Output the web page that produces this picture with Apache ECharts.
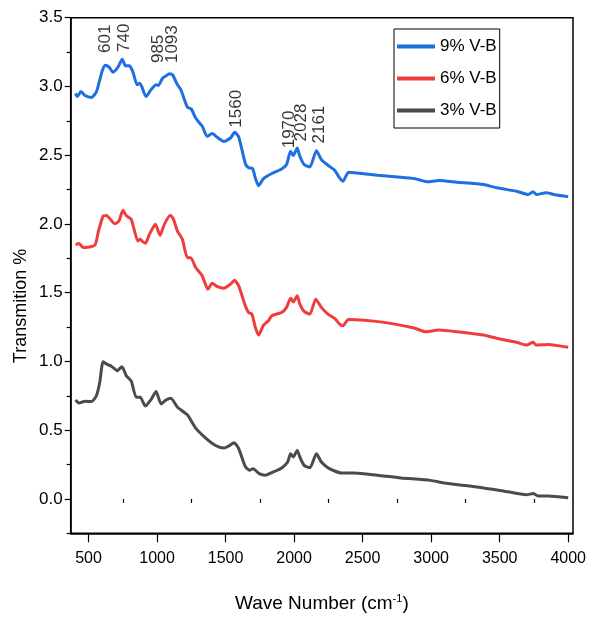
<!DOCTYPE html>
<html>
<head>
<meta charset="utf-8">
<script src="https://cdn.jsdelivr.net/npm/echarts@6/dist/echarts.min.js"></script>
<style>
  html, body { margin: 0; padding: 0; background: #fff; }
  #chart { width: 589px; height: 619px; }
</style>
</head>
<body>
<div id="chart"></div>
<script>
// FTIR transmission spectra, [wavenumber (cm-1), transmission] pairs
const vb9 = [
  [405, 2.95], [418, 2.927], [445, 2.963], [474, 2.934], [522, 2.92], [558, 2.963],
  [580, 3.04], [602, 3.12], [623, 3.155], [650, 3.14], [678, 3.104], [715, 3.14],
  [746, 3.198], [770, 3.15], [799, 3.15], [823, 3.108], [855, 3.012], [872, 3.024],
  [888, 3.0], [920, 2.927], [956, 2.976], [993, 3.012], [1009, 3.007], [1040, 3.06],
  [1070, 3.08], [1089, 3.092], [1113, 3.085], [1149, 3.012], [1174, 2.976], [1221, 2.85],
  [1250, 2.836], [1282, 2.77], [1330, 2.71], [1366, 2.637], [1402, 2.657], [1439, 2.63],
  [1487, 2.60], [1536, 2.625], [1567, 2.666], [1596, 2.633], [1644, 2.44], [1668, 2.408],
  [1697, 2.403], [1717, 2.335], [1741, 2.278], [1777, 2.33], [1837, 2.367], [1909, 2.40],
  [1945, 2.432], [1974, 2.528], [1994, 2.497], [2023, 2.553], [2042, 2.492], [2073, 2.432],
  [2115, 2.415], [2163, 2.533], [2199, 2.468], [2247, 2.427], [2296, 2.39], [2332, 2.335],
  [2356, 2.31], [2397, 2.376], [2441, 2.372], [2609, 2.354], [2778, 2.34], [2875, 2.33],
  [2923, 2.318], [2971, 2.306], [3056, 2.316], [3189, 2.304], [3382, 2.287], [3478, 2.263],
  [3623, 2.238], [3708, 2.214], [3744, 2.234], [3768, 2.214], [3840, 2.227], [3913, 2.21],
  [4000, 2.198]
];
const vb6 = [
  [405, 1.85], [432, 1.857], [461, 1.828], [546, 1.845], [570, 1.937], [606, 2.057],
  [631, 2.062], [691, 2.002], [722, 2.021], [751, 2.10], [775, 2.062], [812, 2.033],
  [860, 1.876], [877, 1.888], [896, 1.871], [915, 1.859], [944, 1.924], [988, 1.997],
  [1022, 1.917], [1053, 1.997], [1096, 2.064], [1118, 2.038], [1149, 1.948], [1185, 1.888],
  [1221, 1.755], [1246, 1.755], [1282, 1.683], [1330, 1.622], [1371, 1.525], [1402, 1.569],
  [1439, 1.545], [1487, 1.533], [1536, 1.562], [1565, 1.591], [1596, 1.549], [1644, 1.404],
  [1668, 1.356], [1692, 1.344], [1717, 1.248], [1741, 1.192], [1777, 1.264], [1813, 1.296],
  [1837, 1.332], [1909, 1.356], [1945, 1.393], [1974, 1.46], [1994, 1.433], [2023, 1.477],
  [2042, 1.417], [2073, 1.364], [2115, 1.344], [2158, 1.453], [2199, 1.393], [2247, 1.344],
  [2296, 1.313], [2332, 1.272], [2356, 1.259], [2397, 1.305], [2658, 1.284], [2875, 1.243],
  [2959, 1.216], [3056, 1.228], [3189, 1.216], [3382, 1.192], [3478, 1.168], [3623, 1.139],
  [3696, 1.119], [3744, 1.139], [3768, 1.119], [3853, 1.124], [4000, 1.103]
];
const vb3 = [
  [405, 0.72], [432, 0.697], [474, 0.711], [522, 0.708], [558, 0.752], [582, 0.849],
  [606, 0.998], [631, 0.981], [667, 0.965], [710, 0.933], [744, 0.962], [775, 0.897],
  [812, 0.856], [848, 0.74], [877, 0.74], [915, 0.675], [956, 0.723], [993, 0.781],
  [1029, 0.691], [1065, 0.72], [1101, 0.733], [1149, 0.667], [1221, 0.612], [1282, 0.515],
  [1355, 0.443], [1427, 0.389], [1487, 0.37], [1523, 0.385], [1562, 0.409], [1596, 0.365],
  [1644, 0.236], [1675, 0.208], [1700, 0.22], [1745, 0.184], [1789, 0.172], [1837, 0.191],
  [1909, 0.225], [1953, 0.269], [1974, 0.329], [1994, 0.305], [2023, 0.353], [2042, 0.305],
  [2073, 0.244], [2115, 0.227], [2163, 0.329], [2199, 0.269], [2247, 0.227], [2296, 0.203],
  [2344, 0.189], [2441, 0.189], [2609, 0.172], [2778, 0.153], [2995, 0.135], [3092, 0.116],
  [3333, 0.087], [3527, 0.058], [3696, 0.031], [3744, 0.039], [3780, 0.022], [3853, 0.022],
  [4000, 0.008]
];

// Band assignments marked above the 9% V-B spectrum
const peakWaves = [601, 740, 985, 1093, 1560, 1970, 2028, 2161];
const peakLabelY = [3.244, 3.251, 3.17, 3.17, 2.70, 2.55, 2.60, 2.585];

const seriesNames = ['9% V-B', '6% V-B', '3% V-B'];
const seriesColors = ['#1f6fe0', '#ef3d3d', '#4b4b4b'];

const xMajor = [500, 1000, 1500, 2000, 2500, 3000, 3500, 4000];
const xMinor = [750, 1250, 1750, 2250, 2750, 3250, 3750];
const yMajor = [0, 0.5, 1.0, 1.5, 2.0, 2.5, 3.0, 3.5];
const yMinor = [-0.25, 0.25, 0.75, 1.25, 1.75, 2.25, 2.75, 3.25];

const font = "'Liberation Sans', Arial, Helvetica, sans-serif";

const chart = echarts.init(document.getElementById('chart'), null, { renderer: 'canvas' });

const xRange = { min: 370, max: 4035 };
const yRange = { min: -0.25, max: 3.5 };

// rotated labels sit slightly left of their anchor; nudge them back (local y = screen x)
const peakData = peakWaves.map((w, i) => ({
  value: [w, peakLabelY[i]],
  name: String(w),
  label: { offset: [0, w === 1970 ? -1 : 3] }
}));

chart.setOption({
  animation: false,
  backgroundColor: '#fff',
  grid: {
    left: 70.7, right: 12.7, top: 17.7, bottom: 85.7,
    show: true, borderColor: '#000', borderWidth: 1.5, backgroundColor: 'transparent'
  },
  legend: {
    orient: 'vertical',
    left: 394, top: 29,
    padding: [9, 3, 9, 3],
    itemGap: 15,
    itemWidth: 38, itemHeight: 4,
    icon: 'rect',
    borderColor: '#000', borderWidth: 1,
    backgroundColor: '#fff',
    textStyle: { fontFamily: font, fontSize: 17, color: '#000' },
    data: seriesNames
  },
  xAxis: [
    {
      type: 'value', ...xRange,
      name: 'Wave Number (cm{sup|-1})',
      nameLocation: 'middle', nameGap: 60,
      nameTextStyle: {
        fontFamily: font, fontSize: 19, color: '#000',
        rich: { sup: { fontFamily: font, fontSize: 11, color: '#000', verticalAlign: 'top', padding: [0, 0, 9, 0] } }
      },
      axisLine: { show: true, onZero: false, lineStyle: { color: '#000', width: 1.5 } },
      axisTick: { show: true, customValues: xMajor, length: 9, lineStyle: { color: '#000', width: 1.2 } },
      axisLabel: {
        customValues: xMajor, margin: 17, fontFamily: font, fontSize: 16, color: '#000',
        formatter: v => String(v)
      },
      splitLine: { show: false }
    },
    {
      type: 'value', ...xRange, position: 'bottom',
      axisLine: { show: false },
      axisTick: { show: true, customValues: xMinor, length: 4, lineStyle: { color: '#000', width: 1.2 } },
      axisLabel: { show: false },
      splitLine: { show: false }
    }
  ],
  yAxis: [
    {
      type: 'value', ...yRange,
      axisLine: { show: true, onZero: false, lineStyle: { color: '#000', width: 1.5 } },
      axisTick: { show: true, customValues: yMajor, length: 6, lineStyle: { color: '#000', width: 1.2 } },
      axisLabel: {
        customValues: yMajor, margin: 8, fontFamily: font, fontSize: 17, color: '#000',
        formatter: v => v.toFixed(1)
      },
      splitLine: { show: false }
    },
    {
      type: 'value', ...yRange, position: 'left',
      axisLine: { show: false },
      axisTick: { show: true, customValues: yMinor, length: 4, lineStyle: { color: '#000', width: 1.2 } },
      axisLabel: { show: false },
      splitLine: { show: false }
    }
  ],
  graphic: [
    {
      type: 'text',
      x: 21, y: 306,
      rotation: Math.PI / 2,
      style: {
        text: 'Transmition %',
        fontFamily: font, fontSize: 18, fill: '#000',
        align: 'center', verticalAlign: 'middle'
      }
    }
  ],
  series: [
    ...[vb9, vb6, vb3].map((d, i) => ({
      name: seriesNames[i],
      type: 'line',
      data: d,
      showSymbol: false,
      symbol: 'none',
      smooth: 0.2,
      color: seriesColors[i],
      lineStyle: { color: seriesColors[i], width: 3 },
      z: 3 - i
    })),
    {
      name: 'bands',
      type: 'scatter',
      symbolSize: 0,
      data: peakData,
      silent: true,
      label: {
        show: true,
        position: 'inside',
        rotate: 90,
        align: 'left',
        verticalAlign: 'middle',
        formatter: p => p.name,
        fontFamily: font,
        fontSize: 17,
        color: '#000'
      }
    }
  ]
});
</script>
</body>
</html>
